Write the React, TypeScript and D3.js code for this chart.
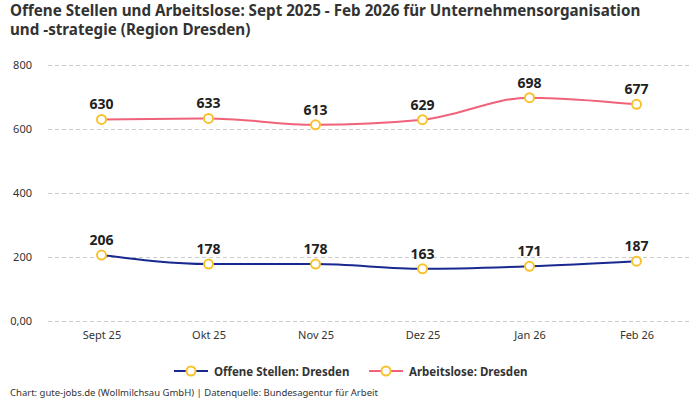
import React, { useEffect, useRef } from 'react';
import * as d3 from 'd3';

const months = ['Sept 25', 'Okt 25', 'Nov 25', 'Dez 25', 'Jan 26', 'Feb 26'];
const offeneStellen = [206, 178, 178, 163, 171, 187];
const arbeitslose = [630, 633, 613, 629, 698, 677];
const yTicks = [0, 200, 400, 600, 800];

const FONT = '"Noto Sans", "DejaVu Sans", sans-serif';

export default function App() {
  const ref = useRef<SVGSVGElement>(null);

  useEffect(() => {
    const width = 700;
    const height = 400;
    const svg = d3.select(ref.current);
    svg.selectAll('*').remove();

    const margin = { top: 65, bottom: 79, left: 48, right: 10 };

    const xScale = d3
      .scalePoint()
      .domain(months)
      .range([margin.left, width - margin.right])
      .padding(0.5);

    const yScale = d3
      .scaleLinear()
      .domain([0, 800])
      .range([height - margin.bottom, margin.top]);

    // title
    svg
      .append('text')
      .attr('x', 10)
      .attr('y', 16)
      .attr('font-family', FONT)
      .attr('font-size', 15.2)
      .attr('font-weight', 'bold')
      .attr('fill', '#333')
      .selectAll('tspan')
      .data([
        'Offene Stellen und Arbeitslose: Sept 2025 - Feb 2026 für Unternehmensorganisation',
        'und -strategie (Region Dresden)',
      ])
      .enter()
      .append('tspan')
      .attr('x', 10)
      .attr('dy', (_d, i) => (i === 0 ? 0 : 19))
      .text((d) => d);

    // grid + y labels
    const yAxis = d3
      .axisLeft(yScale)
      .tickValues(yTicks)
      .tickSize(-(width - margin.left - margin.right))
      .tickPadding(16)
      .tickFormat((d) => (d === 0 ? '0,00' : String(d)));

    const yG = svg
      .append('g')
      .attr('transform', `translate(${margin.left}, 0)`)
      .call(yAxis);
    yG.select('.domain').remove();
    yG.selectAll('line')
      .attr('stroke', '#ccc')
      .attr('stroke-dasharray', '4,3');
    yG.selectAll('text')
      .attr('font-family', FONT)
      .attr('font-size', 11)
      .attr('fill', '#333');

    // x labels
    const xAxis = d3.axisBottom(xScale).tickSize(0).tickPadding(10);
    const xG = svg
      .append('g')
      .attr('transform', `translate(0, ${height - margin.bottom})`)
      .call(xAxis);
    xG.select('.domain').remove();
    xG.selectAll('text')
      .attr('font-family', FONT)
      .attr('font-size', 11)
      .attr('fill', '#333');

    const series = [
      { name: 'Offene Stellen: Dresden', values: offeneStellen, color: '#17288f' },
      { name: 'Arbeitslose: Dresden', values: arbeitslose, color: '#f0627a' },
    ];

    const line = d3
      .line<number>()
      .x((_d, i) => xScale(months[i]) as number)
      .y((d) => yScale(d))
      .curve(d3.curveMonotoneX);

    series.forEach((s) => {
      svg
        .append('path')
        .datum(s.values)
        .attr('d', line)
        .attr('fill', 'none')
        .attr('stroke', s.color)
        .attr('stroke-width', 2);

      svg
        .append('g')
        .selectAll('circle')
        .data(s.values)
        .enter()
        .append('circle')
        .attr('cx', (_d, i) => xScale(months[i]) as number)
        .attr('cy', (d) => yScale(d))
        .attr('r', 4.5)
        .attr('fill', '#fff')
        .attr('stroke', '#f8c22c')
        .attr('stroke-width', 2);

      svg
        .append('g')
        .selectAll('text')
        .data(s.values)
        .enter()
        .append('text')
        .attr('x', (_d, i) => xScale(months[i]) as number)
        .attr('y', (d) => yScale(d) - 10)
        .attr('text-anchor', 'middle')
        .attr('font-family', FONT)
        .attr('font-size', 14)
        .attr('font-weight', 'bold')
        .attr('fill', '#222')
        .text((d) => d);
    });

    // legend
    const legendItems = [
      { x: 174, ...series[0] },
      { x: 369, ...series[1] },
    ];
    legendItems.forEach((l) => {
      const g = svg.append('g').attr('transform', `translate(${l.x}, 371)`);
      g.append('line')
        .attr('x1', 0)
        .attr('x2', 34)
        .attr('stroke', l.color)
        .attr('stroke-width', 2);
      g.append('circle')
        .attr('cx', 17)
        .attr('r', 4.5)
        .attr('fill', '#fff')
        .attr('stroke', '#f8c22c')
        .attr('stroke-width', 2);
      g.append('text')
        .attr('x', 40)
        .attr('y', 4.5)
        .attr('font-family', FONT)
        .attr('font-size', 11.5)
        .attr('font-weight', 'bold')
        .attr('fill', '#333')
        .text(l.name);
    });

    // footer
    svg
      .append('text')
      .attr('x', 10)
      .attr('y', 396)
      .attr('font-family', FONT)
      .attr('font-size', 9.5)
      .attr('fill', '#333')
      .text('Chart: gute-jobs.de (Wollmilchsau GmbH) | Datenquelle: Bundesagentur für Arbeit');
  }, []);

  return (
    <svg
      ref={ref}
      width={700}
      height={400}
      style={{ display: 'block', position: 'absolute', left: 0, top: 0, background: '#fff' }}
    />
  );
}
